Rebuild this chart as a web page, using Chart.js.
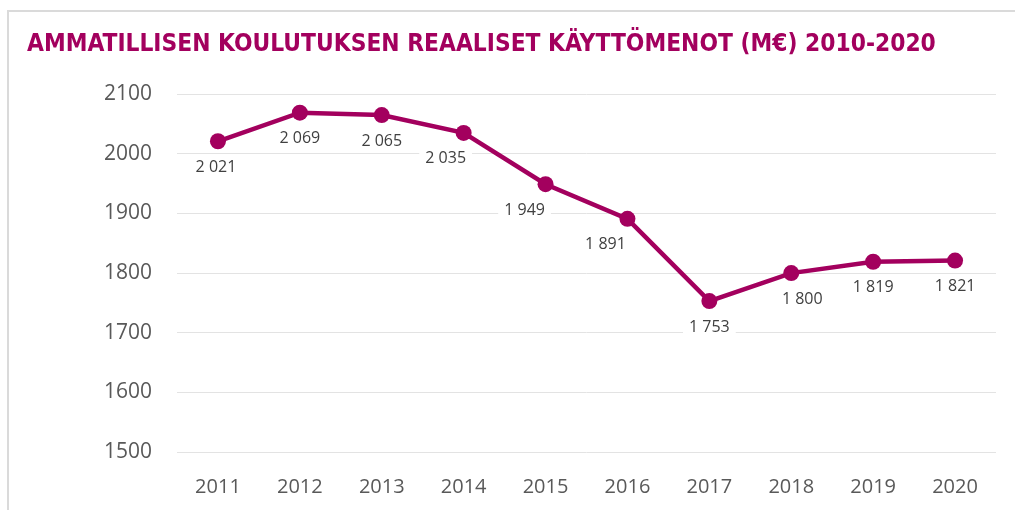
<!DOCTYPE html>
<html>
<head>
<meta charset="utf-8">
<script src="https://cdn.jsdelivr.net/npm/chart.js@4"></script>
<style>
    html, body { margin: 0; padding: 0; background: #fff; }
    #wrap { position: relative; width: 1015px; height: 510px; overflow: hidden; }
    #frame {
        position: absolute; left: 7px; top: 10px; right: -10px; bottom: -10px;
        border-top: 2px solid #dadada; border-left: 2px solid #dadada;
        pointer-events: none;
    }
    canvas { position: absolute; left: 0; top: 0; }
</style>
</head>
<body>
<div id="wrap">
    <div id="frame"></div>
    <canvas id="chart" width="1015" height="510"></canvas>
</div>
<script>
(function() {
    'use strict';

    // Chart data
    const years = ['2011', '2012', '2013', '2014', '2015', '2016', '2017', '2018', '2019', '2020'];
    const spending = [2021, 2069, 2065, 2035, 1949, 1891, 1753, 1800, 1819, 1821];
    const yTicks = [1500, 1600, 1700, 1800, 1900, 2000, 2100];

    const MAGENTA = 'rgb(163, 0, 94)';
    const TEXT_GREY = '#595959';

    // "2021" -> "2 021"
    function formatThousands(v) {
        return String(v).replace(/\B(?=(\d{3})+(?!\d))/g, ' ');
    }

    // Value labels below points, on a white box like the original
    const pointLabels = {
        id: 'pointLabels',
        afterDatasetsDraw(chart, args, opts) {
            const ctx = chart.ctx;
            const meta = chart.getDatasetMeta(0);
            const values = chart.data.datasets[0].data;
            ctx.save();
            ctx.font = opts.font;
            ctx.textAlign = 'center';
            ctx.textBaseline = 'middle';
            meta.data.forEach((pt, i) => {
                const text = formatThousands(values[i]);
                const x = pt.x + (opts.shiftX[i] || 0);
                const y = pt.y + opts.offsetY;
                const w = ctx.measureText(text).width + 12;
                ctx.fillStyle = '#ffffff';
                ctx.fillRect(x - w / 2, y - 11, w, 22);
                ctx.fillStyle = opts.color;
                ctx.fillText(text, x, y);
            });
            ctx.restore();
        }
    };

    new Chart(document.getElementById('chart'), {
        type: 'line',
        data: {
            labels: years,
            datasets: [{
                data: spending,
                borderColor: MAGENTA,
                backgroundColor: MAGENTA,
                borderWidth: 4.5,
                pointRadius: 8,
                pointHoverRadius: 8,
                pointBorderWidth: 0,
                tension: 0
            }]
        },
        options: {
            responsive: false,
            animation: false,
            layout: { padding: { left: 27, right: 19, top: 0, bottom: 0 } },
            plugins: {
                legend: { display: false },
                tooltip: { enabled: false },
                title: {
                    display: true,
                    text: 'AMMATILLISEN KOULUTUKSEN REAALISET KÄYTTÖMENOT (M€) 2010-2020',
                    align: 'start',
                    color: MAGENTA,
                    font: { family: "'Liberation Sans Narrow', 'DejaVu Sans Condensed', sans-serif", size: 24.3, weight: 'bold' },
                    padding: { top: 30, bottom: 35 }
                },
                pointLabels: {
                    font: "16px 'Open Sans', sans-serif",
                    color: '#404040',
                    offsetY: 26,
                    shiftX: [-2, 0, 0, -18, -21, -22, 0, 11, 0, 0]
                }
            },
            scales: {
                x: {
                    offset: true,
                    afterFit: (scale) => { scale.height = 58; },
                    grid: { display: false, drawTicks: false },
                    border: { display: false },
                    ticks: {
                        color: TEXT_GREY,
                        padding: 23,
                        font: { family: "'Open Sans', sans-serif", size: 20 }
                    }
                },
                y: {
                    min: yTicks[0],
                    max: yTicks[yTicks.length - 1],
                    afterBuildTicks: (scale) => { scale.ticks = yTicks.map(v => ({ value: v })); },
                    afterFit: (scale) => { scale.width = 150; },
                    grid: { color: '#e3e3e3', lineWidth: 1, drawTicks: false },
                    border: { display: false },
                    ticks: {
                        color: TEXT_GREY,
                        padding: 25,
                        font: { family: "'Open Sans', sans-serif", size: 21 },
                        callback: (v) => String(v)
                    }
                }
            }
        },
        plugins: [pointLabels]
    });
})();
</script>
</body>
</html>
